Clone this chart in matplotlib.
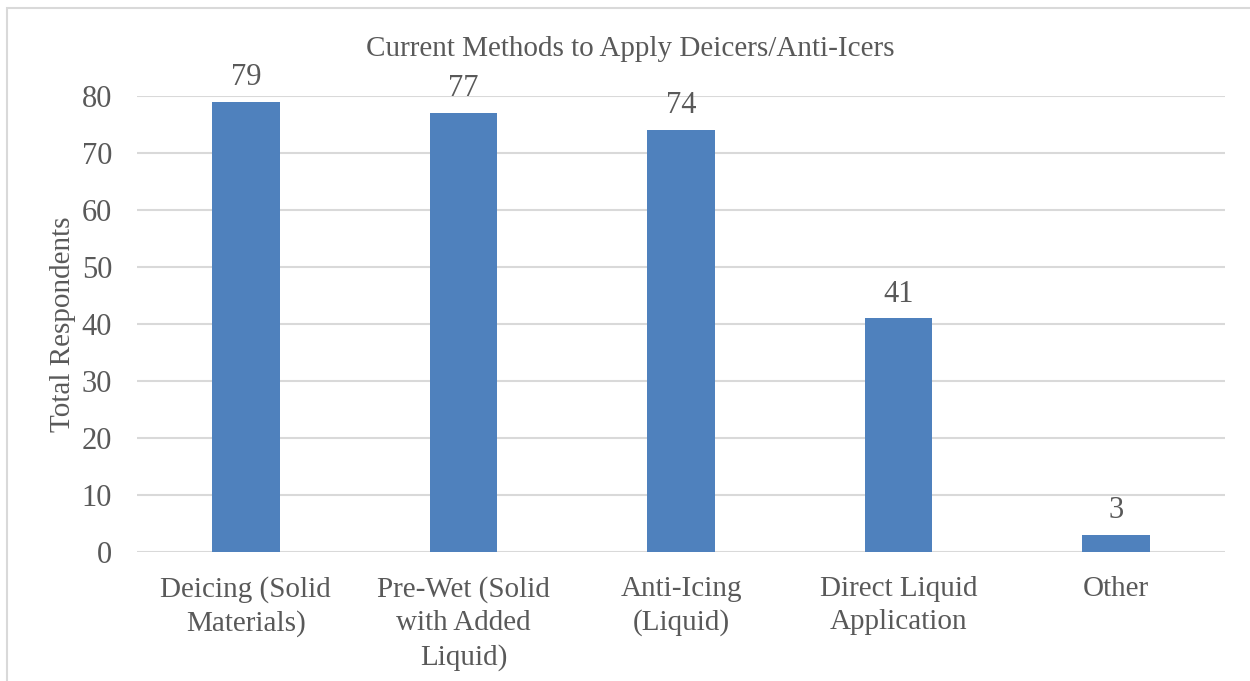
import matplotlib.pyplot as plt
from matplotlib.patches import Rectangle

# survey counts per application method
methods = ['Deicing (Solid\nMaterials)', 'Pre-Wet (Solid\nwith Added\nLiquid)',
           'Anti-Icing\n(Liquid)', 'Direct Liquid\nApplication', 'Other']
respondents = [79, 77, 74, 41, 3]
yticks = [0, 10, 20, 30, 40, 50, 60, 70, 80]

plt.rcParams['font.family'] = ['Liberation Serif', 'DejaVu Serif']
text_col = '#595959'
bar_col = '#4F81BD'
grid_col = '#D9D9D9'

fig = plt.figure(figsize=(12.5, 6.81), dpi=100)
ax = fig.add_axes([0.1096, 0.1894, 0.8704, 0.6696])

x = range(len(methods))
bars = ax.bar(x, respondents, width=0.31, color=bar_col, zorder=3)
for b, v in zip(bars, respondents):
    ax.annotate(str(v), (b.get_x() + b.get_width() / 2, v), xytext=(0, 7),
                textcoords='offset points', ha='center', va='bottom',
                fontsize=22, color=text_col)

ax.set_xlim(-0.5, len(methods) - 0.5)
ax.set_ylim(0, 80)
ax.set_yticks(yticks)
ax.set_xticks(list(x))
ax.set_xticklabels(methods, fontsize=21, color=text_col, linespacing=1.37)
ax.tick_params(axis='y', labelsize=22, labelcolor=text_col, length=0, pad=18)
ax.tick_params(axis='x', length=0, pad=17)
ax.grid(axis='y', color=grid_col, linewidth=1.5, zorder=0)
for s in ax.spines.values():
    s.set_visible(False)

ax.set_ylabel('Total Respondents', fontsize=21, color=text_col, labelpad=4)
fig.text(0.504, 0.928, 'Current Methods to Apply Deicers/Anti-Icers',
         ha='center', va='center', fontsize=21, color=text_col)

# outer chart frame
fig.patches.append(Rectangle((7 / 1250, -0.1), 1.2, 1 - 8 / 681 + 0.1,
                             transform=fig.transFigure, fill=False,
                             edgecolor='#D9D9D9', linewidth=1.5))

fig.savefig('out.png', dpi=100)
